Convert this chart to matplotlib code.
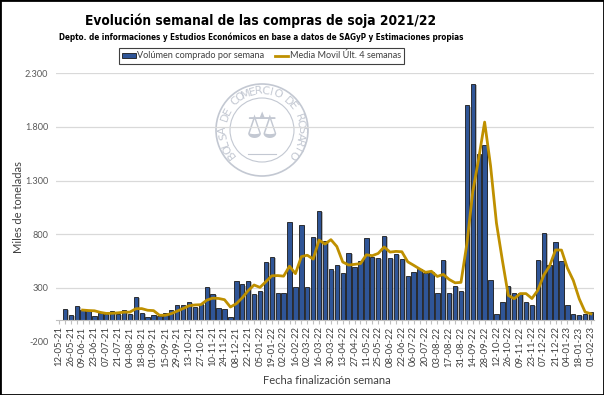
import numpy as np
import pandas as pd
import matplotlib
matplotlib.use("Agg")
import matplotlib.pyplot as plt
from matplotlib import font_manager as fm
from matplotlib.patches import Patch, Rectangle, Circle
from matplotlib.lines import Line2D
from matplotlib.ticker import FuncFormatter
import matplotlib.patheffects as pe

# weekly purchases (miles de t), one slot per week from 12-05-21 to 01-02-23
volumen = [np.nan,
           101, 51, 129, 95, 83, 42, 70, 55, 89, 58,
           95, 58, 213, 64, 33, 45, 40, 64, 95, 137,
           137, 167, 125, 147, 306, 241, 114, 101, 33, 365,
           333, 368, 244, 275, 545, 588, 253, 253, 915, 312,
           886, 307, 772, 1020, 736, 472, 517, 442, 623, 497,
           547, 768, 590, 582, 787, 578, 615, 569, 411, 449,
           480, 443, 449, 256, 557, 256, 322, 273, 2000, 2199,
           1552, 1630, 377, 58, 167, 322, 250, 250, 167, 139,
           557, 812, 517, 731, 551, 142, 55, 48, 58, 74]

etiquetas = ["12-05-21", "26-05-21", "09-06-21", "23-06-21", "07-07-21", "21-07-21",
             "04-08-21", "18-08-21", "01-09-21", "15-09-21", "29-09-21", "13-10-21",
             "27-10-21", "10-11-21", "24-11-21", "08-12-21", "22-12-21", "05-01-22",
             "19-01-22", "02-02-22", "16-02-22", "02-03-22", "16-03-22", "30-03-22",
             "13-04-22", "27-04-22", "11-05-22", "25-05-22", "08-06-22", "22-06-22",
             "06-07-22", "20-07-22", "03-08-22", "17-08-22", "31-08-22", "14-09-22",
             "28-09-22", "12-10-22", "26-10-22", "09-11-22", "23-11-22", "07-12-22",
             "21-12-22", "04-01-23", "18-01-23", "01-02-23"]

# media movil de las ultimas 4 semanas
media = pd.Series(volumen).rolling(4).mean()


def heading_font():
    # a narrow bold face if one is installed, otherwise Roboto bold
    for f in fm.fontManager.ttflist:
        if ("Narrow" in f.name or "Condensed" in f.name or "Condensed" in f.fname) \
                and "Bold" in f.fname and "Italic" not in f.fname:
            return fm.FontProperties(fname=f.fname)
    return fm.FontProperties(family=["Roboto", "DejaVu Sans"], weight="bold")


W, H = 604, 395
fig = plt.figure(figsize=(W / 100, H / 100), dpi=100)

# watermark seal (Bolsa de Comercio de Rosario)
cx, cy, R = 262, 130, 50
wm = fig.add_axes([(cx - R) / W, 1 - (cy + R) / H, 2 * R / W, 2 * R / H])
wm.set_xlim(-R, R); wm.set_ylim(-R, R); wm.axis("off")
wcol = "#c3c8d2"
wm.add_patch(Circle((0, 0), 46, fill=False, ec=wcol, lw=1.2))
wm.add_patch(Circle((0, 0), 32, fill=False, ec=wcol, lw=0.8))
txt = "BOLSA DE COMERCIO DE ROSARIO"
angs = np.linspace(218, -38, len(txt))
for ch, a in zip(txt, angs):
    r = np.deg2rad(a)
    wm.text(39 * np.cos(r), 39 * np.sin(r), ch, rotation=a - 90, ha="center", va="center",
            fontsize=8, color=wcol, family="DejaVu Sans")
wm.text(0, 2, "\u2696", ha="center", va="center", fontsize=26, color=wcol, family="DejaVu Sans")
wm.plot([-14, 14], [-24, -24], color=wcol, lw=0.8)

ax = fig.add_axes([56 / W, 1 - 341.6 / H, 538 / W, (341.6 - 73.3) / H])
ax.set_facecolor("none")
ax.set_zorder(2)

x = np.arange(len(volumen))
ax.bar(x, volumen, width=0.74, color="#2f5597", edgecolor="#1a1a1a", linewidth=0.6, zorder=2,
       path_effects=[pe.SimplePatchShadow(offset=(1.2, -0.8), shadow_rgbFace="#8c8c8c", alpha=0.6),
                     pe.Normal()])
ax.plot(x, media, color="#bf9000", lw=2.0, zorder=3, solid_joinstyle="round")

ax.set_xlim(-0.5, len(volumen) - 0.5)
ax.set_ylim(-200, 2300)
ax.set_yticks(np.arange(-200, 2301, 500))
ax.yaxis.set_major_formatter(FuncFormatter(lambda v, _: f"{int(v):,}".replace(",", ".")))
ax.grid(axis="y", color="#d9d9d9", lw=0.9)
ax.set_axisbelow(True)

for s in ["top", "right", "left"]:
    ax.spines[s].set_visible(False)
ax.spines["bottom"].set_position(("data", 0))
ax.spines["bottom"].set_color("#bfbfbf")

ax.set_xticks(x)
labs = [""] * len(x)
for i, lab in enumerate(etiquetas):
    labs[2 * i] = lab
ax.set_xticklabels(labs, rotation=90, fontsize=6.8, color="#404040", family="Lato")
ax.tick_params(axis="x", length=3, color="#bfbfbf", pad=1.5)
ax.tick_params(axis="y", length=0, labelsize=6.6, labelcolor="#595959", pad=5.5)
for t in ax.get_yticklabels():
    t.set_family("Lato")

fig.text(19 / W, 1 - 207 / H, "Miles de toneladas", rotation=90, ha="center", va="center",
         fontsize=8, color="#404040", family="Lato")
fig.text(327 / W, 1 - 381 / H, "Fecha finalización semana", ha="center", va="center",
         fontsize=8, color="#404040", family="Lato")

fp = heading_font()
title = fig.text(261 / W, 1 - 25.5 / H, "Evolución semanal de las compras de soja 2021/22",
                 ha="center", va="baseline", fontproperties=fp, fontsize=13)
sub = fig.text(261.5 / W, 1 - 39.5 / H,
               "Depto. de informaciones y Estudios Económicos en base a datos de SAGyP y Estimaciones propias",
               ha="center", va="baseline", fontproperties=fp, fontsize=7)

# fit the headings close to the widths seen in the reference
fig.canvas.draw()
r = fig.canvas.get_renderer()
for t, target in [(title, 350), (sub, 405)]:
    wpx = t.get_window_extent(r).width
    t.set_fontsize(t.get_fontsize() * target / wpx)

handles = [Patch(facecolor="#2f5597", edgecolor="#1a1a1a", lw=0.6),
           Line2D([], [], color="#bf9000", lw=2.0)]
leg = ax.legend(handles, ["Volúmen comprado por semana", "Media Movil Últ. 4 semanas"],
                loc="center", bbox_to_anchor=(261.5 / W, 1 - 56 / H), bbox_transform=fig.transFigure,
                ncol=2, fancybox=False, edgecolor="#404040", framealpha=1,
                prop={"family": "Lato", "size": 6.6}, handlelength=1.5, handleheight=0.5,
                columnspacing=1.1, handletextpad=0.15, borderpad=0.35)
leg.get_frame().set_linewidth(0.8)
for t in leg.get_texts():
    t.set_color("#404040")

fig.patches.append(Rectangle((0, 0), 1, 1, transform=fig.transFigure, fill=False,
                             edgecolor="black", lw=2))

fig.savefig("out.png", dpi=100)
